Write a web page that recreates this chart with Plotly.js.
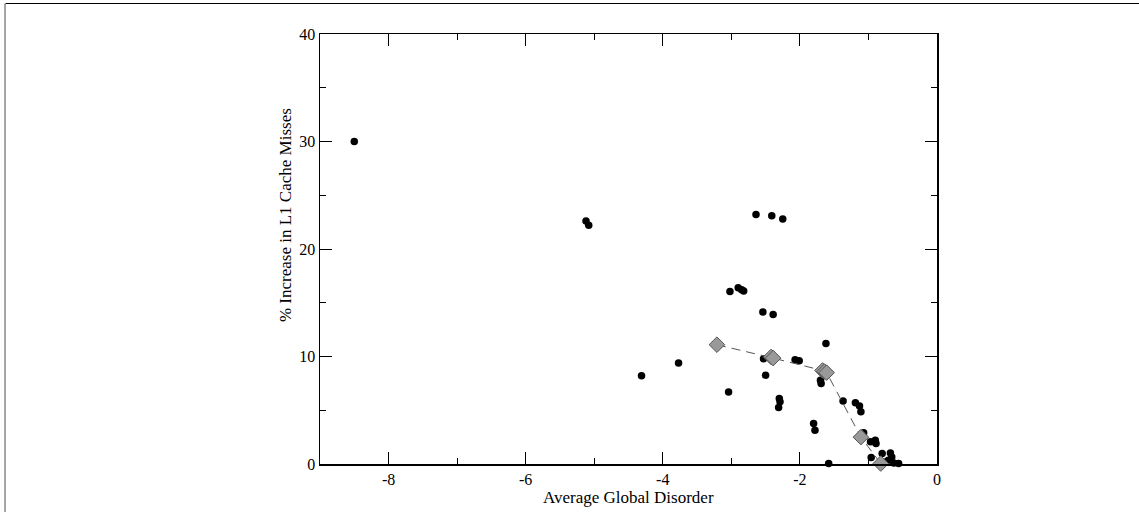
<!DOCTYPE html>
<html>
<head>
<meta charset="utf-8">
<script src="https://cdn.plot.ly/plotly-3.0.1.min.js"></script>
<style>html,body{margin:0;padding:0;background:#fff;}#chart{width:1139px;height:512px;}</style>
</head>
<body>
<div id="chart"></div>
<script>
// Individual measurements (black dots)
const disorderX = [-8.50, -5.12, -5.08, -4.31, -3.77, -3.04, -3.02, -2.90, -2.85, -2.82,
  -2.64, -2.41, -2.25, -2.54, -2.39, -1.62, -2.53, -2.50, -2.07, -2.01,
  -1.70, -1.69, -2.30, -2.29, -2.31, -1.37, -1.19, -1.13, -1.11, -1.80,
  -1.78, -1.58, -1.07, -0.97, -0.90, -0.89, -0.96, -0.80, -0.68, -0.66,
  -0.71, -0.63, -0.56, -0.75];
const missesY = [30.0, 22.6, 22.2, 8.2, 9.4, 6.7, 16.05, 16.4, 16.2, 16.1,
  23.2, 23.1, 22.8, 14.15, 13.9, 11.2, 9.8, 8.26, 9.7, 9.6,
  7.8, 7.5, 6.1, 5.8, 5.25, 5.87, 5.7, 5.4, 4.85, 3.76,
  3.14, 0.04, 2.9, 2.08, 2.2, 1.9, 0.6, 0.97, 1.02, 0.65,
  0.34, 0.09, 0.04, 0.19];
// Averages (gray diamonds, dashed line)
const avgX = [-3.21, -2.42, -2.39, -1.67, -1.64, -1.61, -1.11, -0.82];
const avgY = [11.1, 9.96, 9.85, 8.7, 8.6, 8.5, 2.5, 0.04];

const tickLabelsX = ['-8', '-6', '-4', '-2', '0'];
const tickValsX = [-8, -6, -4, -2, 0];
const tickLabelsY = ['0', '10', '20', '30', '40'];
const tickValsY = [0, 10, 20, 30, 40];

const xTitle = 'Average Global Disorder';
const yTitle = '% Increase in L1 Cache Misses';

const serif = 'Liberation Serif, Times New Roman, serif';

const traces = [
  {
    x: disorderX, y: missesY, type: 'scatter', mode: 'markers',
    marker: {color: '#000', size: 7.5, symbol: 'circle'},
    cliponaxis: false, showlegend: false, hoverinfo: 'x+y'
  },
  {
    x: avgX, y: avgY, type: 'scatter', mode: 'lines+markers',
    line: {color: '#555', width: 1, dash: '9px,6px'},
    marker: {color: '#999', size: 12, symbol: 'diamond', line: {color: '#555', width: 1}},
    cliponaxis: false, showlegend: false, hoverinfo: 'x+y'
  }
];

const axisCommon = {
  showline: true, linecolor: '#000', linewidth: 1.5, mirror: 'ticks',
  ticks: 'inside', ticklen: 12, tickwidth: 1, tickcolor: '#000',
  showgrid: false, zeroline: false,
  tickfont: {family: serif, size: 16, color: '#000'}
};

const layout = {
  width: 1139, height: 512,
  margin: {l: 320, r: 202, t: 34, b: 48},
  paper_bgcolor: '#fff', plot_bgcolor: '#fff',
  font: {family: serif, color: '#000'},
  xaxis: Object.assign({}, axisCommon, {
    range: [-9, 0], tickvals: tickValsX, ticktext: tickLabelsX,
    minor: {ticks: 'inside', ticklen: 6, dtick: 1, tick0: 0, tickcolor: '#000', tickwidth: 1, showgrid: false},
    ticklabelstandoff: 0
  }),
  yaxis: Object.assign({}, axisCommon, {
    range: [0, 40], tickvals: tickValsY, ticktext: tickLabelsY,
    minor: {ticks: 'inside', ticklen: 6, dtick: 5, tick0: 0, tickcolor: '#000', tickwidth: 1, showgrid: false}
  }),
  annotations: [
    {text: xTitle, xref: 'paper', yref: 'paper', x: 0.5, y: -0.077, xanchor: 'center', yanchor: 'middle',
     showarrow: false, font: {family: serif, size: 17, color: '#000'}},
    {text: yTitle, xref: 'paper', yref: 'paper', x: -0.0567, y: 0.579, xanchor: 'center', yanchor: 'middle',
     textangle: -90, showarrow: false, font: {family: serif, size: 17, color: '#000'}}
  ],
  shapes: [
    {type: 'line', xref: 'paper', yref: 'paper', x0: -0.5097, x1: 1.33, y0: 1.0709, y1: 1.0709,
     line: {color: '#000', width: 1.2}},
    {type: 'line', xref: 'paper', yref: 'paper', x0: -0.5105, x1: -0.5105, y0: 1.0709, y1: -0.12,
     line: {color: '#888', width: 1.5}}
  ]
};

Plotly.newPlot('chart', traces, layout, {displayModeBar: false, staticPlot: true});
</script>
</body>
</html>
